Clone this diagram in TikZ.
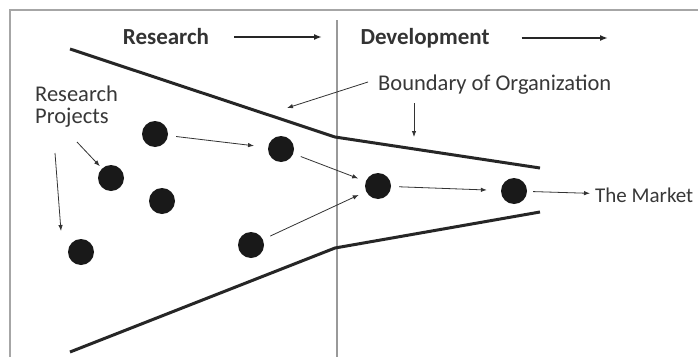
\documentclass[tikz,border=0pt]{standalone}
\usepackage{fontspec}
\setmainfont{Carlito}
\usetikzlibrary{arrows.meta, positioning}
\tikzstyle{proyecto} = [circle, fill=black!90, minimum size=26pt, inner sep=0pt]
\tikzstyle{etapa} = [font=\fontsize{23}{26}\selectfont\bfseries, text=black!80, inner sep=0pt]
\tikzstyle{etiqueta} = [font=\fontsize{22.5}{25}\selectfont, text=black!78, inner sep=0pt]
\tikzstyle{frontera} = [line width=3pt, black!85]
\tikzstyle{flecha} = [-{Latex[length=6pt,width=4.5pt]}, black!80, line width=0.8pt]
\tikzstyle{flechagrande} = [-{Latex[length=8pt,width=6pt]}, black!85, line width=2.6pt]

\begin{document}
\begin{tikzpicture}[x=1pt, y=-1pt]
	\path[use as bounding box, clip] (0,0) rectangle (698,356);
	\fill[white] (0,0) rectangle (698,356);
	\draw[gray!70, line width=1.2pt] (10,10) rectangle (760,420);
	\draw[gray!80, line width=1.2pt] (337,20) -- (337,360);
	% etapas
	\node[etapa] (research) at (166,37) {Research};
	\node[etapa] (development) at (425,38) {Development};
	\coordinate (resfin) at (322,37);
	\coordinate (devfin) at (608,38);
	\draw[flechagrande] ([xshift=25pt]research.east) -- (resfin);
	\draw[flechagrande] ([xshift=32pt]development.east) -- (devfin);
	% limites de la organizacion
	\coordinate (a1) at (70,49);
	\coordinate (a2) at (335,137);
	\coordinate (a3) at (540,168);
	\coordinate (b1) at (70,352);
	\coordinate (b2) at (335,248);
	\coordinate (b3) at (540,212);
	\draw[frontera] (a1) -- (a2) -- (a3);
	\draw[frontera] (b1) -- (b2) -- (b3);
	% textos
	\node[etiqueta, align=left, anchor=north west] (proyectos) at (35,86) {Research\\[-3pt]Projects};
	\node[etiqueta, anchor=west] (boundary) at (378,85) {Boundary of Organization};
	\node[etiqueta, anchor=west, font=\fontsize{21}{24}\selectfont] (market) at (595,195) {The Market};
	\coordinate (bordeA) at (287,108);
	\coordinate (bordeB) at (414,137);
	\coordinate (bordeBini) at (414,103);
	\draw[flecha] ([xshift=-10pt,yshift=3pt]boundary.west) -- (bordeA);
	\draw[flecha] (bordeBini) -- (bordeB);
	% proyectos
	\node[proyecto] (p1) at (155,134) {};
	\node[proyecto] (p2) at (281,149) {};
	\node[proyecto] (p3) at (111,178) {};
	\node[proyecto] (p4) at (162,201) {};
	\node[proyecto] (p5) at (81,252) {};
	\node[proyecto] (p6) at (251,245) {};
	\node[proyecto] (p7) at (378,186) {};
	\node[proyecto] (p8) at (514,191) {};
	\coordinate (rp1) at (77,142);
	\coordinate (rp2) at (55,153);
	\coordinate (rp2fin) at (61,231);
	\draw[flecha, shorten >=3pt] (rp1) -- (p3);
	\draw[flecha] (rp2) -- (rp2fin);
	\draw[flecha, shorten <=8pt, shorten >=14pt] (p1) -- (p2);
	\draw[flecha, shorten <=8pt, shorten >=8pt] (p2) -- (p7);
	\draw[flecha, shorten <=8pt, shorten >=8pt] (p6) -- (p7);
	\draw[flecha, shorten <=8pt, shorten >=14pt] (p7) -- (p8);
	\draw[flecha, shorten <=6pt, shorten >=5pt] (p8) -- (market);
\end{tikzpicture}
\end{document}
